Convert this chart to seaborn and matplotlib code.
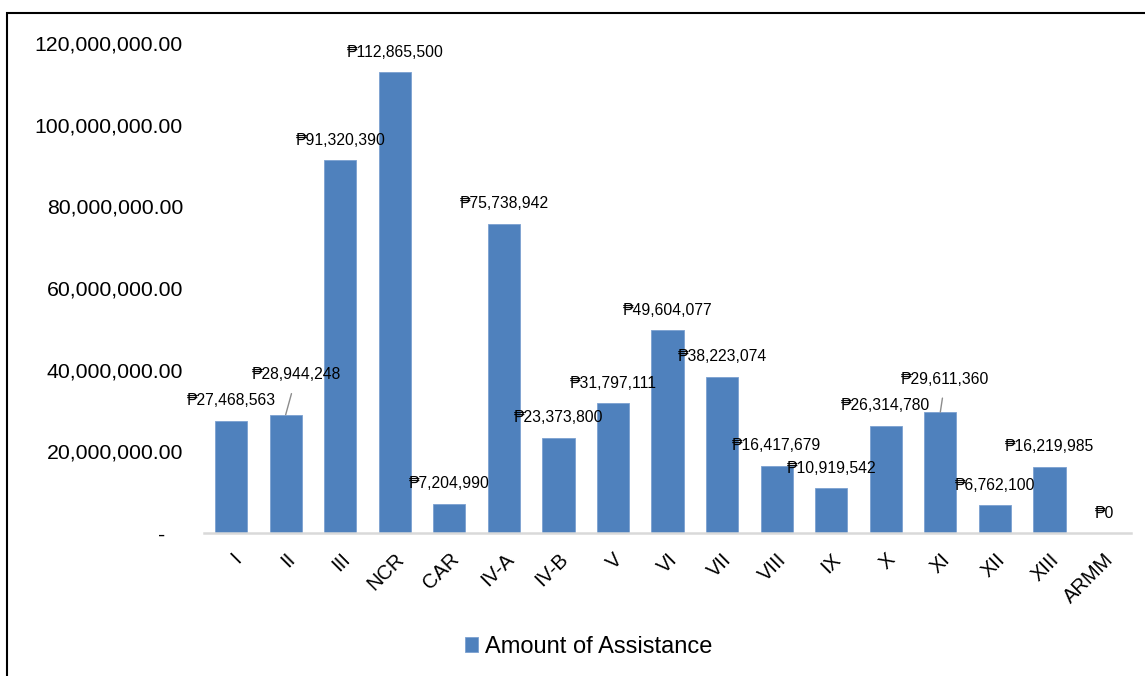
import matplotlib
matplotlib.use("Agg")
import matplotlib.pyplot as plt
import matplotlib.ticker as mticker
from matplotlib.patches import Rectangle
import seaborn as sns

# Amount of assistance per region (PHP)
regions = ['I', 'II', 'III', 'NCR', 'CAR', 'IV-A', 'IV-B', 'V', 'VI', 'VII',
           'VIII', 'IX', 'X', 'XI', 'XII', 'XIII', 'ARMM']
amounts = [27468563, 28944248, 91320390, 112865500, 7204990, 75738942,
           23373800, 31797111, 49604077, 38223074, 16417679, 10919542,
           26314780, 29611360, 6762100, 16219985, 0]
y_ticks = [0, 20000000, 40000000, 60000000, 80000000, 100000000, 120000000]

sns.set_style("white")
plt.rcParams['font.family'] = ['Liberation Sans', 'DejaVu Sans']
plt.rcParams['text.color'] = 'black'
plt.rcParams['xtick.color'] = 'black'
plt.rcParams['ytick.color'] = 'black'

fig = plt.figure(figsize=(11.45, 6.76), dpi=100)
ax = fig.add_axes([0.178, 0.2115, 0.81, 0.725])

sns.barplot(x=regions, y=amounts, color='#4F81BD', saturation=1, width=0.59,
            label='Amount of Assistance', ax=ax, edgecolor='#7BA0D0', linewidth=0.6)

ax.set_xlim(-0.5, len(regions) - 0.5)
ax.set_ylim(0, 120000000)
ax.set_yticks(y_ticks)
# accounting style: zero shows as a dash with trailing space
ax.yaxis.set_major_formatter(mticker.FuncFormatter(
    lambda v, p: '-   ' if v == 0 else f'{v:,.2f}'))
ax.tick_params(axis='y', length=0, pad=15, labelsize=15.3)
ax.tick_params(axis='x', length=0, pad=12, labelsize=14.5)
for lbl in ax.get_xticklabels():
    lbl.set_rotation(45)
    lbl.set_ha('right')
    lbl.set_rotation_mode('anchor')
ax.set_xlabel('')
ax.set_ylabel('')

for s in ['top', 'right', 'left']:
    ax.spines[s].set_visible(False)
ax.spines['bottom'].set_color('#D9D9D9')
ax.spines['bottom'].set_linewidth(1.8)

# data labels, two of them moved up with a leader line like the original
moved = {'II': (11, 40), 'XI': (5, 33)}
for i, (r, v) in enumerate(zip(regions, amounts)):
    if r in moved:
        ax.annotate(f'\u20b1{v:,}', xy=(i, v), xytext=moved[r],
                    textcoords='offset pixels', ha='center', va='center',
                    fontsize=11.3,
                    arrowprops=dict(arrowstyle='-', color='#8C8C8C', lw=1,
                                    shrinkA=6, shrinkB=0))
    else:
        ax.annotate(f'\u20b1{v:,}', xy=(i, v), xytext=(0, 20),
                    textcoords='offset pixels', ha='center', va='center',
                    fontsize=11.3)

ax.legend(loc='center', bbox_to_anchor=(0.514, 0.043),
          bbox_transform=fig.transFigure, frameon=False, fontsize=17,
          handlelength=0.55, handleheight=0.55, handletextpad=0.3)

# outer chart frame (cut off at right and bottom in the source)
fig.patches.append(Rectangle((7 / 1145, -0.2), 1.2, 1.2 - 13 / 676,
                             transform=fig.transFigure, fill=False,
                             edgecolor='black', linewidth=1.5))

fig.savefig('out.png', dpi=100)
